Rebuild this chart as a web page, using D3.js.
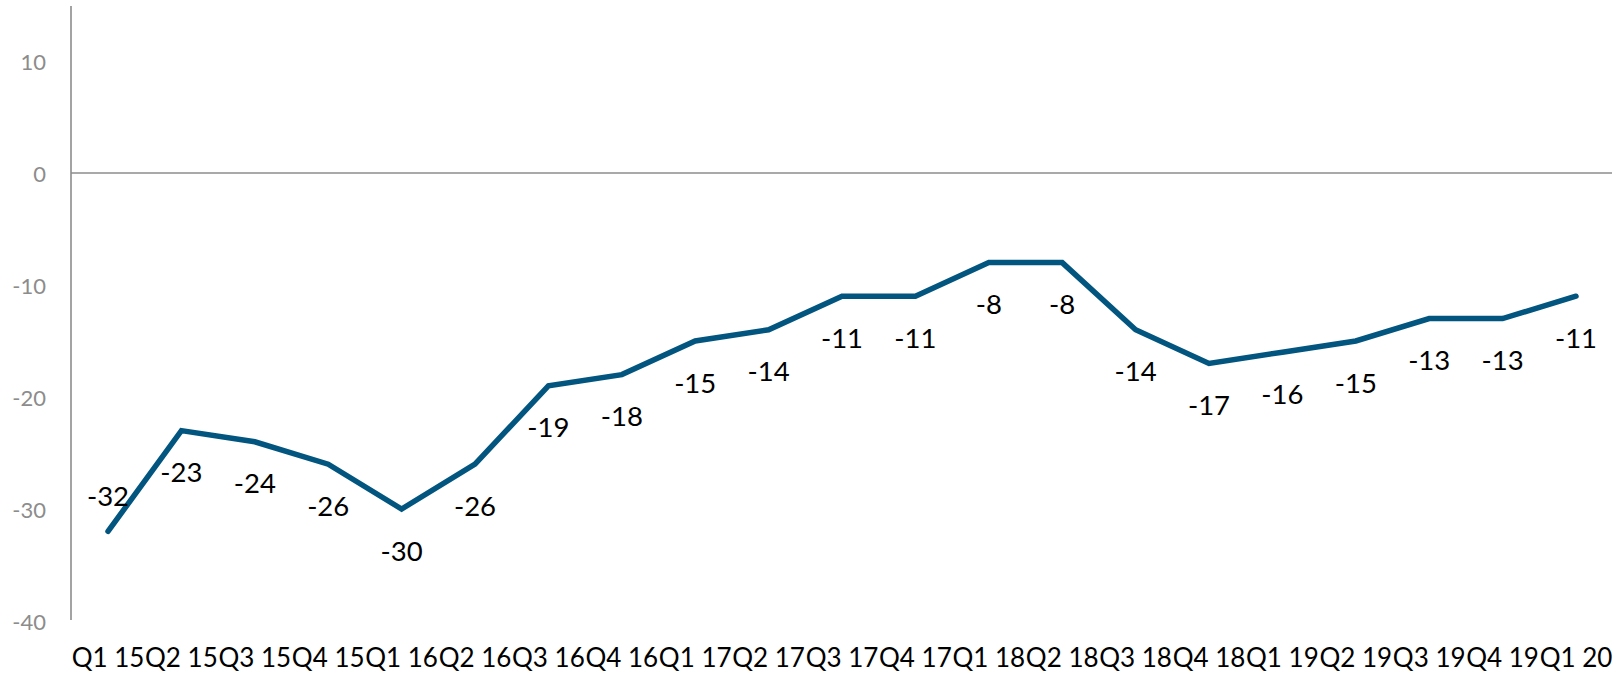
<!DOCTYPE html>
<html><head><meta charset="utf-8">
<script src="https://cdn.jsdelivr.net/npm/d3@7"></script>
<style>html,body{margin:0;padding:0;background:#fff;}svg{display:block;}</style>
</head><body>
<svg id="chart" width="1620" height="674"></svg>
<script>
const categories = ["Q1 15","Q2 15","Q3 15","Q4 15","Q1 16","Q2 16","Q3 16","Q4 16","Q1 17","Q2 17","Q3 17","Q4 17","Q1 18","Q2 18","Q3 18","Q4 18","Q1 19","Q2 19","Q3 19","Q4 19","Q1 20"];
const values = [-32,-23,-24,-26,-30,-26,-19,-18,-15,-14,-11,-11,-8,-8,-14,-17,-16,-15,-13,-13,-11];
const yTicks = [10,0,-10,-20,-30,-40];

const svg = d3.select("#chart");
const axisX = 71;
const x = d3.scalePoint().domain(categories).range([108,1576]);
const y = d3.scaleLinear().domain([-40,15]).range([621,5]);
const grey = "#8c8c8c";
const font = "Lato, 'Open Sans', sans-serif";

// y axis line
svg.append("line").attr("x1",axisX).attr("x2",axisX).attr("y1",y(15)+1).attr("y2",y(-40)-1)
  .attr("stroke",grey).attr("stroke-width",1.6);
// zero line
svg.append("line").attr("x1",axisX).attr("x2",1612).attr("y1",y(0)).attr("y2",y(0))
  .attr("stroke",grey).attr("stroke-width",1.6);

// y tick labels
svg.append("g").selectAll("text").data(yTicks).join("text")
  .attr("x",46).attr("y",d=>y(d)).attr("text-anchor","end").attr("dominant-baseline","central")
  .attr("font-family",font).attr("font-size",22).attr("fill",grey).text(d=>d);

// x labels
svg.append("g").selectAll("text").data(categories).join("text")
  .attr("x",d=>x(d)).attr("y",667).attr("text-anchor","middle")
  .attr("font-family",font).attr("font-size",26).attr("fill","#000").text(d=>d);

// line
const line = d3.line().x((d,i)=>x(categories[i])).y(d=>y(d));
svg.append("path").datum(values).attr("d",line).attr("fill","none")
  .attr("stroke","#02557f").attr("stroke-width",5.5).attr("stroke-linejoin","miter").attr("stroke-linecap","round");

// data labels
svg.append("g").selectAll("text").data(values).join("text")
  .attr("x",(d,i)=>x(categories[i]))
  .attr("y",(d,i)=> i===0 ? y(d)-36 : y(d)+41)
  .attr("text-anchor","middle").attr("dominant-baseline","central")
  .attr("font-family",font).attr("font-size",27.5).attr("fill","#000").text(d=>d);
</script>
</body></html>
